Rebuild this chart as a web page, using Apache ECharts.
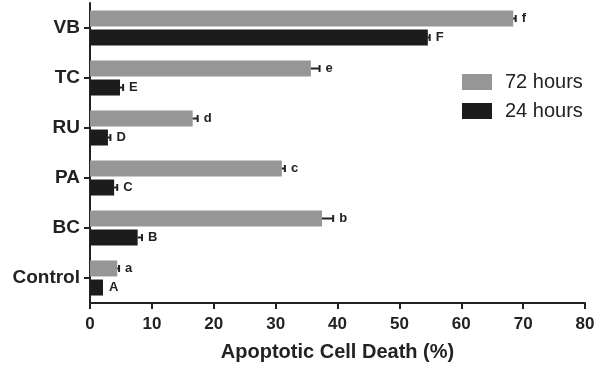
<!DOCTYPE html>
<html>
<head>
<meta charset="utf-8">
<script src="https://cdn.jsdelivr.net/npm/echarts@6/dist/echarts.min.js"></script>
<style>
  html, body { margin: 0; padding: 0; background: #fff; }
  #chart { width: 601px; height: 368px; }
</style>
</head>
<body>
<div id="chart"></div>
<script>
// categories bottom -> top
var categories = ['Control', 'BC', 'PA', 'RU', 'TC', 'VB'];

var h72 = [4.4, 37.5, 31.0, 16.6, 35.7, 68.4];
var h72Err = [0.3, 1.8, 0.5, 0.8, 1.4, 0.4];
var h72Letters = ['a', 'b', 'c', 'd', 'e', 'f'];

var h24 = [2.1, 7.7, 3.9, 2.9, 4.85, 54.6];
var h24Err = [0, 0.7, 0.5, 0.4, 0.5, 0.3];
var h24Letters = ['A', 'B', 'C', 'D', 'E', 'F'];

var xTicks = [0, 10, 20, 30, 40, 50, 60, 70, 80];

var FONT = '"Liberation Sans", Arial, sans-serif';
var INK = '#222';

function errData(vals, errs, letters, off) {
    return vals.map(function (v, i) { return [i, v, errs[i], letters[i], off]; });
}

function renderErr(params, api) {
    var cat = api.value(0);
    var v = api.value(1);
    var e = api.value(2);
    var letter = api.value(3);
    var off = api.value(4);
    var p0 = api.coord([v, cat]);
    var p1 = api.coord([v + e, cat]);
    var y = p0[1] + off;
    var children = [];
    if (e > 0) {
        children.push({
            type: 'line',
            shape: { x1: p0[0], y1: y, x2: p1[0], y2: y },
            style: { stroke: INK, lineWidth: 2 }
        });
        children.push({
            type: 'line',
            shape: { x1: p1[0], y1: y - 3.5, x2: p1[0], y2: y + 3.5 },
            style: { stroke: INK, lineWidth: 2 }
        });
    }
    children.push({
        type: 'text',
        style: {
            x: p1[0] + 6, y: y,
            text: letter,
            fill: INK,
            font: 'bold 13px ' + FONT,
            verticalAlign: 'middle',
            align: 'left'
        }
    });
    return { type: 'group', children: children };
}

var option = {
    animation: false,
    backgroundColor: '#fff',
    textStyle: { fontFamily: FONT },
    grid: { left: 90, right: 16, top: 3, bottom: 65 },
    legend: {
        data: ['72 hours', '24 hours'],
        orient: 'vertical',
        left: 462,
        top: 72,
        padding: 0,
        itemWidth: 30,
        itemHeight: 16,
        itemGap: 9,
        icon: 'rect',
        textStyle: { fontSize: 20, color: INK, fontFamily: FONT, padding: [0, 0, 0, 8] }
    },
    xAxis: {
        type: 'value',
        min: 0,
        max: 80,
        interval: 10,
        splitLine: { show: false },
        axisLine: { show: true, lineStyle: { color: INK, width: 2 } },
        axisTick: { show: true, length: 6, lineStyle: { color: INK, width: 2 } },
        axisLabel: {
            margin: 13, color: INK, fontSize: 17, fontWeight: 'bold', fontFamily: FONT,
            formatter: function (v) { return xTicks.indexOf(v) >= 0 ? String(v) : ''; }
        },
        name: 'Apoptotic Cell Death (%)',
        nameLocation: 'middle',
        nameGap: 39,
        nameTextStyle: { color: INK, fontSize: 20, fontWeight: 'bold', fontFamily: FONT }
    },
    yAxis: {
        type: 'category',
        data: categories,
        axisLine: { show: true, lineStyle: { color: INK, width: 2 } },
        axisTick: { show: true, alignWithLabel: true, length: 6, lineStyle: { color: INK, width: 2 } },
        axisLabel: { margin: 10, color: INK, fontSize: 19, fontWeight: 'bold', fontFamily: FONT }
    },
    series: [
        {
            name: '72 hours',
            type: 'bar',
            data: h72,
            barWidth: 16,
            barGap: '19%',
            itemStyle: { color: '#969696' }
        },
        {
            name: '24 hours',
            type: 'bar',
            data: h24,
            barWidth: 16,
            barGap: '19%',
            itemStyle: { color: '#1c1c1c' }
        },
        {
            name: 'err72',
            type: 'custom',
            renderItem: renderErr,
            encode: { x: 1, y: 0 },
            data: errData(h72, h72Err, h72Letters, -9.5),
            clip: false,
            z: 5
        },
        {
            name: 'err24',
            type: 'custom',
            renderItem: renderErr,
            encode: { x: 1, y: 0 },
            data: errData(h24, h24Err, h24Letters, 9.5),
            clip: false,
            z: 5
        }
    ]
};

var myChart = echarts.init(document.getElementById('chart'));
myChart.setOption(option);
</script>
</body>
</html>
